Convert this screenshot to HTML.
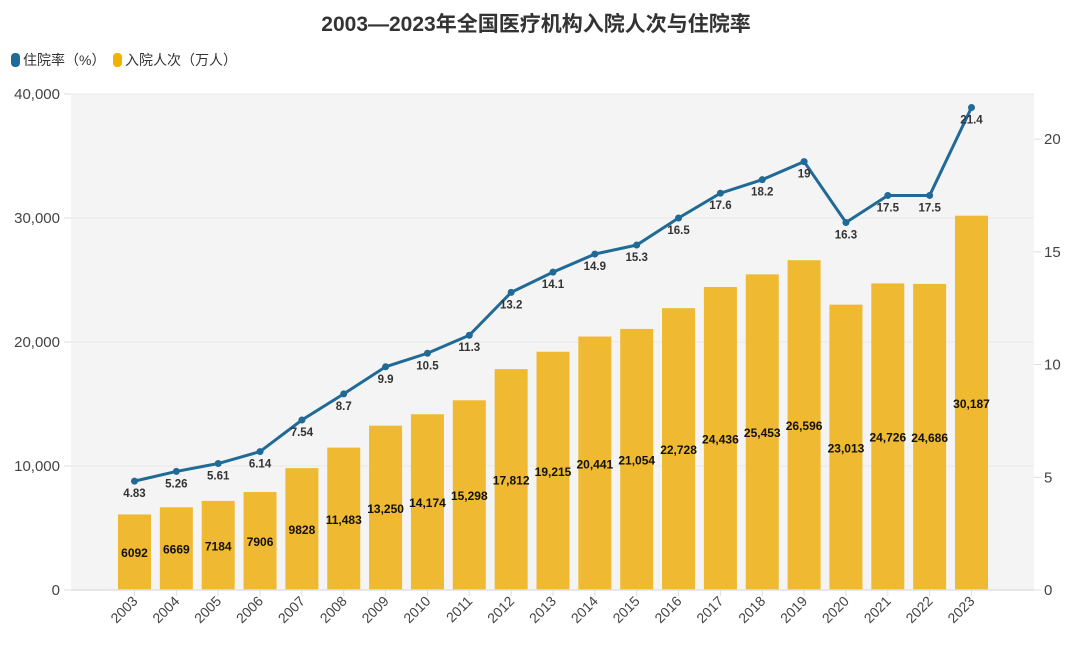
<!DOCTYPE html>
<html><head><meta charset="utf-8"><style>
body{margin:0;background:#fff;width:1072px;height:650px;overflow:hidden}
svg text{font-family:"Liberation Sans","Noto Sans CJK SC",sans-serif}
</style></head><body>
<svg id="c" width="1072" height="650">
<text x="536" y="31" text-anchor="middle" font-size="21" font-weight="bold" fill="#333">2003—2023年全国医疗机构入院人次与住院率</text>
<g>
<g><rect x="11" y="53" width="9" height="14" rx="4" fill="#1f6a96"/><text x="23" y="65" font-size="14" fill="#333">住院率（%）</text></g>
<g><rect x="113" y="53" width="9" height="14" rx="4" fill="#f0b400"/><text x="125" y="65" font-size="14" fill="#333">入院人次（万人）</text></g>
</g>
<rect x="71" y="94" width="963" height="496" fill="#f4f4f4"/>
<g id="grid"></g><g id="bars"></g><g id="line"></g><g id="axes"></g>
</svg>
<script>
const years=["2003","2004","2005","2006","2007","2008","2009","2010","2011","2012","2013","2014","2015","2016","2017","2018","2019","2020","2021","2022","2023"];
const admissions=[6092,6669,7184,7906,9828,11483,13250,14174,15298,17812,19215,20441,21054,22728,24436,25453,26596,23013,24726,24686,30187];
const admissionLabels=["6092","6669","7184","7906","9828","11,483","13,250","14,174","15,298","17,812","19,215","20,441","21,054","22,728","24,436","25,453","26,596","23,013","24,726","24,686","30,187"];
const rates=[4.83,5.26,5.61,6.14,7.54,8.7,9.9,10.5,11.3,13.2,14.1,14.9,15.3,16.5,17.6,18.2,19,16.3,17.5,17.5,21.4];
const leftTicks=[0,10000,20000,30000,40000];
const leftTickLabels=["0","10,000","20,000","30,000","40,000"];
const rightTicks=[0,5,10,15,20];
const NS="http://www.w3.org/2000/svg";
const top0=94,bot=590;
const yL=v=>bot-v/40000*(bot-top0);
const yR=v=>bot-v/22*(bot-top0);
const xC=i=>134.5+i*41.85;
function mk(tag,attrs,parent,txt){const e=document.createElementNS(NS,tag);for(const k in attrs)e.setAttribute(k,attrs[k]);if(txt!==undefined)e.textContent=txt;document.getElementById(parent).appendChild(e);return e;}
leftTicks.forEach((t,i)=>{
 if(t>0){const g=mk('line',{x1:71,x2:1034,y1:yL(t),y2:yL(t),stroke:'#e8e8e8','stroke-width':1},'grid');
 
 }
 const l=mk('line',{x1:64,x2:71,y1:yL(t),y2:yL(t),stroke:'#ddd'},'axes');
 
 
 const tx=mk('text',{x:60,y:yL(t)+5,'text-anchor':'end','font-size':15,fill:'#444'},'axes',leftTickLabels[i]);
 
 
});
rightTicks.forEach(t=>{
 const l=mk('line',{x1:1034,x2:1041,y1:yR(t),y2:yR(t),stroke:'#ddd'},'axes');
 
 
 const tx=mk('text',{x:1044,y:yR(t)+5,'font-size':15,fill:'#444'},'axes',String(t));
 
 
});
const ax=mk('line',{x1:71,x2:1034,y1:bot,y2:bot,stroke:'#e0e0e0','stroke-width':1.5},'axes');


years.forEach((y,i)=>{
 const x=xC(i);
 const b=mk('rect',{x:x-16.5,y:yL(admissions[i]),width:33,height:bot-yL(admissions[i]),fill:'#efb931'},'bars');
 
 
 const bl=mk('text',{x:x,y:(yL(admissions[i])+bot)/2+5,'text-anchor':'middle','font-size':12,'font-weight':'bold',fill:'#111'},'bars',admissionLabels[i]);
 
 
 const tk=mk('line',{x1:x,x2:x,y1:bot,y2:bot+6,stroke:'#ddd'},'axes');
 
 
 const xl=mk('text',{x:x+4,y:bot+12,'text-anchor':'end','font-size':14,fill:'#444',transform:`rotate(-45 ${x+4} ${bot+12})`},'axes',y);
 
 
});
const pts=rates.map((r,i)=>xC(i)+','+yR(r)).join(' ');
const pl=mk('polyline',{points:pts,fill:'none',stroke:'#1f6a96','stroke-width':3},'line');


rates.forEach((r,i)=>{
 const c=mk('circle',{cx:xC(i),cy:yR(r),r:3.5,fill:'#1f6a96'},'line');
 
 
 const t=mk('text',{x:xC(i),y:yR(r)+16,'text-anchor':'middle','font-size':11.5,'font-weight':'bold',fill:'#333'},'line',String(r));
 
 
});
</script>
</body></html>
